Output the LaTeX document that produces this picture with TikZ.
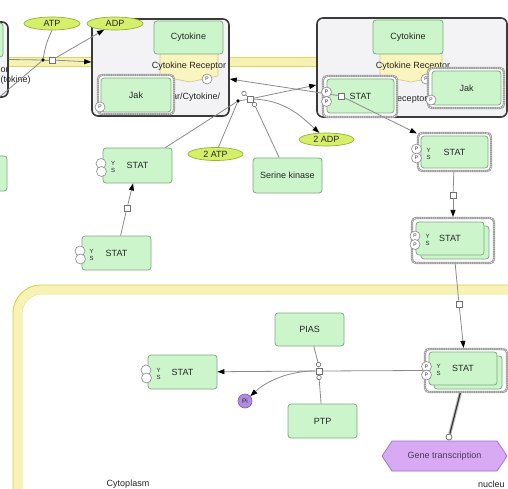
\documentclass[tikz,border=0pt]{standalone}
\usepackage{fontspec}
\setmainfont{Liberation Sans}
\usetikzlibrary{arrows.meta,shapes.geometric,calc}
\definecolor{gfill}{HTML}{CCF5CC}
\definecolor{gbord}{HTML}{80AA80}
\definecolor{txt}{HTML}{262626}
\definecolor{cfill}{HTML}{F3F3F5}
\definecolor{cbord}{HTML}{3A3A3A}
\definecolor{recfill}{HTML}{FAF4BE}
\definecolor{recbord}{HTML}{CFC68A}
\definecolor{ellfill}{HTML}{D5EF6A}
\definecolor{ellbord}{HTML}{95B23A}
\definecolor{memfill}{HTML}{F6F3B2}
\definecolor{memline}{HTML}{DED860}
\definecolor{nucband}{HTML}{F6F3B4}
\definecolor{nucline}{HTML}{D6D04C}
\definecolor{nucinner}{HTML}{E9E58E}
\definecolor{pifill}{HTML}{B08CE0}
\definecolor{pibord}{HTML}{7E5CB5}
\definecolor{genefill}{HTML}{D9AAF4}
\definecolor{genebord}{HTML}{9C6CCB}
\definecolor{genetxt}{HTML}{4A3A5A}
\definecolor{lgray}{HTML}{8C8C8C}
\definecolor{mgray}{HTML}{9A9A9A}
\definecolor{svb}{HTML}{8A8A8A}
\begin{document}
\begin{tikzpicture}[x=1pt,y=-1pt,
  lab/.style={font=\fontsize{9}{10}\selectfont, text=txt, inner sep=0pt},
  gbox/.style={draw=gbord, fill=gfill, rounded corners=3pt, line width=0.8pt, inner sep=0pt, lab},
  cplx/.style={draw=cbord, fill=cfill, rounded corners=6pt, line width=1.6pt, inner sep=0pt},
  multi/.style={draw=mgray, fill=white, line width=2.2pt, rounded corners=4pt, inner sep=0pt,
    postaction={draw=white, line width=0.7pt, dash pattern=on 1pt off 1.2pt}},
  ell/.style={ellipse, draw=ellbord, fill=ellfill, line width=0.7pt, inner sep=0pt, lab},
  sv/.style={circle, draw=svb, fill=white, line width=0.6pt, minimum size=10pt, inner sep=0pt,
    font=\fontsize{5}{5}\selectfont, text=txt},
  ys/.style={font=\fontsize{6}{6}\selectfont, text=txt, inner sep=0pt},
  proc/.style={rectangle, draw=lgray!80!black, fill=white, line width=0.7pt, minimum size=6pt, inner sep=0pt},
  jdot/.style={circle, fill=black, minimum size=3.6pt, inner sep=0pt},
  modc/.style={circle, draw=lgray!80!black, fill=white, line width=0.6pt, minimum size=4.5pt, inner sep=0pt},
  conn/.style={draw=lgray, line width=0.8pt},
  arr/.style={conn, -{Triangle[length=7pt,width=5pt,color=black]}}
]
\useasboundingbox (0,0) rectangle (508,489);
\clip (0,0) rectangle (508,489);
\fill[white] (0,0) rectangle (508,489);

% membrane band
\path[fill=memfill, draw=memline, line width=0.6pt] (-5,57) rectangle (515,66);

% nucleus
\draw[line width=9pt, nucband, rounded corners=24pt] (17.5,289.5) rectangle (560,560);
\draw[line width=0.9pt, nucline, rounded corners=28pt] (13,285) rectangle (565,565);
\draw[line width=0.5pt, nucinner, rounded corners=20pt] (22,294) rectangle (556,556);
\node[lab, anchor=center] (cyto) at (128,484) {Cytoplasm};
\node[lab, anchor=west] (nucl) at (478,484) {nucleu};

% left partial complex
\node[cplx, minimum width=68pt, minimum height=75pt] (cL) at (-26,59.5) {};
\node[gbox, minimum width=70pt, minimum height=34pt] (cLg) at (-32,40) {};
\node[lab, anchor=west] (cLt1) at (0.5,70) {or};
\node[lab, anchor=west] (cLt2) at (0.5,80) {(tokine)};
\node[gbox, minimum width=70pt, minimum height=35pt] (gL) at (-28,173.5) {};

% complex A
\node[cplx, minimum width=137pt, minimum height=97pt] (cA) at (160.5,67.5) {};
\path[fill=recfill, draw=recbord, line width=0.6pt] (160,50) -- (218,50) -- (218,76) -- (190,82) -- (160,76) -- cycle;
\node[gbox, minimum width=69pt, minimum height=33pt] (cytA) at (188.5,37.5) {Cytokine};
\node[lab] (recA) at (189,66) {Cytokine Receptor};
\node[sv] (recAp) at (207,79) {P};
\node[lab, anchor=west] (cAt) at (172,97) {ar/Cytokine/};
\node[multi, minimum width=76pt, minimum height=39pt] (jakAo) at (136,94.5) {};
\node[gbox, minimum width=70pt, minimum height=34pt] (jakA) at (136,95) {Jak};
\node[sv] (jakAp) at (100,107) {P};

% complex B
\node[cplx, minimum width=190pt, minimum height=99pt] (cB) at (412,67.5) {};
\path[fill=recfill, draw=recbord, line width=0.6pt] (380,50) -- (442,50) -- (442,76) -- (411,82) -- (380,76) -- cycle;
\node[gbox, minimum width=70pt, minimum height=34pt] (cytB) at (408,37) {Cytokine};
\node[lab] (recB) at (413,66) {Cytokine Receptor};
\node[sv] (recBp) at (426,79) {P};
\node[lab] (cBt) at (409,99) {Receptor};
\node[multi, minimum width=76pt, minimum height=40pt] (jakBo) at (466,88) {};
\node[gbox, minimum width=69pt, minimum height=34pt] (jakB) at (466.5,88) {Jak};
\node[sv] (jakBp) at (431,100) {P};
\node[multi, minimum width=74pt, minimum height=41pt] (statBo) at (360,96.5) {};
\node[gbox, minimum width=67pt, minimum height=34pt] (statB) at (360.5,96) {STAT};

% small molecules
\node[ell, minimum width=56pt, minimum height=13pt] (atp) at (52,23.5) {ATP};
\node[ell, minimum width=56pt, minimum height=13pt] (adp) at (115,23.5) {ADP};
\node[ell, minimum width=55pt, minimum height=13pt] (atp2) at (215.5,154) {2 ATP};
\node[ell, minimum width=55pt, minimum height=13pt] (adp2) at (326.5,139.5) {2 ADP};

% proteins
\node[gbox, minimum width=69pt, minimum height=35pt] (sk) at (287.5,175.5) {Serine kinase};
\node[gbox, minimum width=69pt, minimum height=35pt] (s1) at (137.5,165.5) {STAT};
\node[gbox, minimum width=69pt, minimum height=34pt] (s0) at (116.5,253) {STAT};
\node[multi, minimum width=73pt, minimum height=38pt] (s2o) at (454.5,152) {};
\node[gbox, minimum width=67pt, minimum height=32pt] (s2) at (454.5,152) {STAT};
\node[multi, minimum width=82pt, minimum height=45pt] (s3o) at (453,240.5) {};
\node[gbox, minimum width=68pt, minimum height=33pt] (s3b) at (455,242.5) {};
\node[gbox, minimum width=68pt, minimum height=33pt] (s3) at (450,238.5) {STAT};
\node[multi, minimum width=82pt, minimum height=43pt] (s4o) at (466,370.5) {};
\node[gbox, minimum width=68pt, minimum height=33pt] (s4b) at (468,372.5) {};
\node[gbox, minimum width=68pt, minimum height=33pt] (s4) at (463,368.5) {STAT};
\node[gbox, minimum width=69pt, minimum height=34pt] (s5) at (182.5,372) {STAT};
\node[gbox, minimum width=69pt, minimum height=33pt] (pias) at (309.5,329.5) {PIAS};
\node[gbox, minimum width=69pt, minimum height=34pt] (ptp) at (322.5,421) {PTP};
\node[circle, draw=pibord, fill=pifill, line width=0.6pt, minimum size=14pt, inner sep=0pt,
  font=\fontsize{6.5}{7}\selectfont, text=txt] (pi) at (245,401) {Pi};
\path[fill=genefill, draw=genebord, line width=0.7pt] (382,456) -- (392,441) -- (497,441) -- (507,456) -- (497,471) -- (392,471) -- cycle;
\node[lab, text=genetxt, minimum width=105pt, minimum height=30pt] (gene) at (444.5,456) {Gene transcription};

% process nodes
\node[jdot] (d1) at (43,60) {};
\node[proc] (p1) at (52,60) {};
\node[jdot] (d2) at (238,101) {};
\node[proc] (p2) at (250,99) {};
\node[modc] (c2a) at (244,93.5) {};
\node[modc] (c2b) at (254.5,104.5) {};
\node[proc] (p3) at (341,96) {};
\node[proc] (p4) at (127,208) {};
\node[proc] (p5) at (453,195) {};
\node[proc] (p6) at (459,304) {};
\node[proc] (p7) at (319,371) {};
\node[modc] (c7a) at (318.5,364.5) {};
\node[modc] (c7b) at (319,377.5) {};
\node[modc, minimum size=6pt, line width=0.8pt] (c8) at (449,437) {};

% connectors
\coordinate (offL) at (-4,100);
\draw[conn] (cL.east) -- (d1);
\draw[conn] (offL) -- (d1);
\draw[conn] (atp.south) to[bend right=8] (d1);
\draw[conn] (d1) -- (p1);
\draw[arr] (p1) -- (adp);
\draw[arr] (p1) -- ([yshift=5.5pt]cA.west);
\draw[conn] (s1) -- (d2);
\draw[conn] (atp2) -- (d2);
\draw[conn] (d2) -- (p2);
\draw[conn] (sk) -- (c2b);
\draw[conn] (c2b) -- (p2);
\draw[conn] (c2a) -- (p2);
\draw[arr] (p2) .. controls (285,100) and (302,117) .. (adp2);
\draw[arr] (p2) -- ([yshift=-17.5pt]cB.west);
\draw[arr] (p3) -- ([yshift=-11.5pt]cA.east);
\draw[arr] (p3) -- (s2o);
\draw[conn] (s0) -- (p4);
\draw[arr] (p4) -- (s1);
\draw[conn] (s2o) -- (p5);
\draw[arr] (p5) -- (s3o);
\draw[conn] (s3o) -- (p6);
\draw[arr] (p6) -- (s4o);
\draw[conn] (s4o.west) -- (p7);
\draw[arr] (p7) -- (s5);
\draw[arr] (p7) .. controls (290,371) and (268,380) .. (pi);
\draw[conn] (pias) -- (c7a);
\draw[conn] (c7a) -- (p7);
\draw[conn] (ptp) -- (c7b);
\draw[conn] (c7b) -- (p7);
\draw[draw=gray!55, line width=3.2pt] (s4o) -- (c8);
\draw[draw=gray!40!black, line width=1.1pt] (s4o) -- (c8);

% state variables
\node[sv] (s1a) at (101,163.5) {};
\node[sv] (s1b) at (101.5,171.5) {};
\node[ys] (s1y) at (113,163.5) {Y};
\node[ys] (s1s) at (113,170.5) {S};
\node[sv] (s0a) at (80,251) {};
\node[sv] (s0b) at (80.5,259) {};
\node[ys] (s0y) at (91.5,251) {Y};
\node[ys] (s0s) at (91.5,258) {S};
\node[sv] (s2a) at (416.5,149) {P};
\node[sv] (s2b) at (416.5,158) {P};
\node[ys] (s2y) at (428.5,150) {Y};
\node[ys] (s2s) at (428.5,157) {S};
\node[sv] (s3a) at (415,236) {P};
\node[sv] (s3b2) at (415,244.5) {P};
\node[ys] (s3y) at (427.5,236) {Y};
\node[ys] (s3s) at (427.5,243) {S};
\node[sv] (s4a) at (426.5,366.5) {P};
\node[sv] (s4b2) at (426.5,375) {P};
\node[ys] (s4y) at (438.5,366.5) {Y};
\node[ys] (s4s) at (438.5,373.5) {S};
\node[sv] (s5a) at (146,370) {};
\node[sv] (s5b) at (146.5,378) {};
\node[ys] (s5y) at (158.5,370) {Y};
\node[ys] (s5s) at (158.5,377) {S};
\node[sv] (sBa) at (326.5,92) {P};
\node[sv] (sBb) at (326.5,101.5) {P};
\end{tikzpicture}
\end{document}
